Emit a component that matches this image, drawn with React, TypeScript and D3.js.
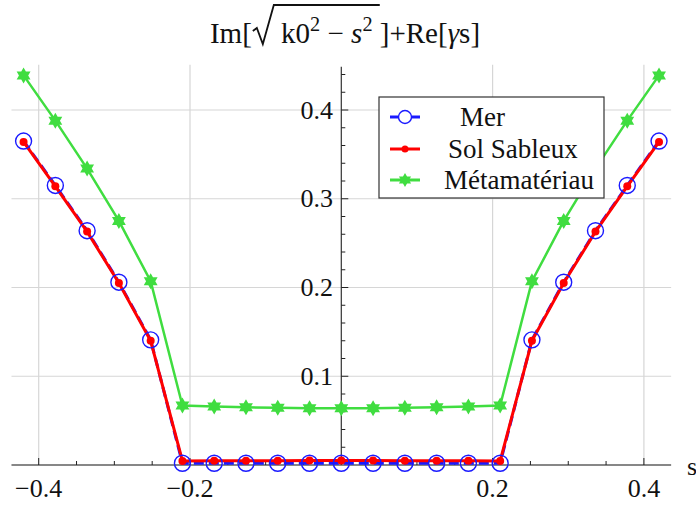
import React, { useEffect, useRef } from "react";
import * as d3 from "d3";

const sValues = [-0.42, -0.378, -0.336, -0.294, -0.252, -0.21, -0.168, -0.126, -0.084, -0.042, 0, 0.042, 0.084, 0.126, 0.168, 0.21, 0.252, 0.294, 0.336, 0.378, 0.42];
const merValues = [0.365, 0.315, 0.264, 0.206, 0.141, 0.002, 0.002, 0.002, 0.002, 0.002, 0.002, 0.002, 0.002, 0.002, 0.002, 0.002, 0.141, 0.206, 0.264, 0.315, 0.365];
const solValues = [0.364, 0.314, 0.263, 0.205, 0.140, 0.0045, 0.0047, 0.0048, 0.0049, 0.005, 0.005, 0.005, 0.0049, 0.0048, 0.0047, 0.0045, 0.140, 0.205, 0.263, 0.314, 0.364];
const metaValues = [0.439, 0.388, 0.334, 0.275, 0.207, 0.067, 0.066, 0.065, 0.0645, 0.064, 0.064, 0.064, 0.0645, 0.065, 0.066, 0.067, 0.207, 0.275, 0.334, 0.388, 0.439];
const seriesNames = ["Mer", "Sol Sableux", "Métamatériau"];
const xTicks = [-0.4, -0.2, 0.2, 0.4];
const yTicks = [0.1, 0.2, 0.3, 0.4];

const W = 696, H = 507;
const FONT = "'Liberation Serif', 'Times New Roman', serif";
const BLUE = "#1a1aff";
const RED = "#ff0000";
const GREEN = "#40dd40";

function starPath(r: number) {
  const pts: [number, number][] = [];
  for (let i = 0; i < 12; i++) {
    const a = (Math.PI / 6) * i - Math.PI / 2;
    const rr = i % 2 === 0 ? r : r / Math.sqrt(3);
    pts.push([rr * Math.cos(a), rr * Math.sin(a)]);
  }
  return "M" + pts.map((p) => p.join(",")).join("L") + "Z";
}

export default function App() {
  const ref = useRef<SVGSVGElement | null>(null);
  useEffect(() => {
    const svg = d3.select(ref.current);
    svg.selectAll("*").remove();
    const x = d3.scaleLinear().domain([-0.4, 0.4]).range([38.7, 643.9]);
    const y = d3.scaleLinear().domain([0, 0.4]).range([465, 110]);
    const xMin = -0.436, xMax = 0.436, yMax = 0.451;

    // grid
    const g = svg.append("g");
    xTicks.forEach((t) => {
      g.append("line").attr("x1", x(t)).attr("x2", x(t)).attr("y1", y(yMax)).attr("y2", y(0))
        .attr("stroke", "#d6d6d6").attr("stroke-width", 1.2);
    });
    yTicks.forEach((t) => {
      g.append("line").attr("x1", x(xMin)).attr("x2", x(xMax)).attr("y1", y(t)).attr("y2", y(t))
        .attr("stroke", "#d6d6d6").attr("stroke-width", 1.2);
    });

    // axes
    svg.append("line").attr("x1", x(xMin)).attr("x2", x(xMax)).attr("y1", y(0)).attr("y2", y(0))
      .attr("stroke", "#111").attr("stroke-width", 1.2);
    svg.append("line").attr("x1", x(0)).attr("x2", x(0)).attr("y1", y(yMax) + 2).attr("y2", y(0))
      .attr("stroke", "#333").attr("stroke-width", 1.2);

    // x ticks
    const xMinor = d3.range(-8, 9).map((i) => i * 0.05);
    xMinor.forEach((t) => {
      const major = Math.abs(Math.round(t * 100) % 20) === 0;
      if (Math.abs(t) < 1e-9) return;
      svg.append("line").attr("x1", x(t)).attr("x2", x(t)).attr("y1", y(0)).attr("y2", y(0) - (major ? 7 : 4))
        .attr("stroke", "#222").attr("stroke-width", 1);
    });
    xTicks.forEach((t) => {
      svg.append("text").attr("x", x(t)).attr("y", 497).attr("text-anchor", "middle")
        .attr("font-family", FONT).attr("font-size", 26).attr("fill", "#111")
        .text(t < 0 ? "\u2212" + d3.format(".1f")(-t) : d3.format(".1f")(t));
    });
    // y ticks
    d3.range(1, 23).map((i) => i * 0.02).forEach((t) => {
      const major = Math.round(t * 100) % 10 === 0;
      svg.append("line").attr("x1", x(0)).attr("x2", x(0) + (major ? 7 : 4)).attr("y1", y(t)).attr("y2", y(t))
        .attr("stroke", "#222").attr("stroke-width", 1);
    });
    yTicks.forEach((t) => {
      svg.append("text").attr("x", 333).attr("y", y(t) + 8.5).attr("text-anchor", "end")
        .attr("font-family", FONT).attr("font-size", 26).attr("fill", "#111")
        .text(d3.format(".1f")(t));
    });
    svg.append("text").attr("x", 687).attr("y", 475).attr("font-family", FONT).attr("font-size", 26)
      .attr("fill", "#111").text("s");

    // lines
    const line = d3.line<number>().x((_, i) => x(sValues[i])).y((v) => y(v));
    svg.append("path").attr("d", line(merValues)).attr("fill", "none").attr("stroke", BLUE)
      .attr("stroke-width", 3).attr("stroke-dasharray", "10,5");
    svg.append("path").attr("d", line(solValues)).attr("fill", "none").attr("stroke", RED)
      .attr("stroke-width", 3);
    svg.append("path").attr("d", line(metaValues)).attr("fill", "none").attr("stroke", GREEN)
      .attr("stroke-width", 2.5);

    // markers
    merValues.forEach((v, i) => {
      svg.append("circle").attr("cx", x(sValues[i])).attr("cy", y(v)).attr("r", 8)
        .attr("fill", "none").attr("stroke", BLUE).attr("stroke-width", 1.4);
    });
    solValues.forEach((v, i) => {
      svg.append("circle").attr("cx", x(sValues[i])).attr("cy", y(v)).attr("r", 4).attr("fill", RED);
    });
    metaValues.forEach((v, i) => {
      svg.append("path").attr("d", starPath(8)).attr("transform", `translate(${x(sValues[i])},${y(v)})`)
        .attr("fill", GREEN);
    });

    // legend
    const lg = svg.append("g");
    lg.append("rect").attr("x", 379).attr("y", 97).attr("width", 225).attr("height", 101)
      .attr("fill", "white").attr("stroke", "#333").attr("stroke-width", 1.2);
    const rowsY = [117, 149, 180];
    const textX = [460, 448, 444];
    const cols = [BLUE, RED, GREEN];
    rowsY.forEach((ry, i) => {
      lg.append("line").attr("x1", 390).attr("x2", 420).attr("y1", ry).attr("y2", ry)
        .attr("stroke", cols[i]).attr("stroke-width", 3);
      if (i === 0) lg.append("circle").attr("cx", 405).attr("cy", ry).attr("r", 6.5).attr("fill", "white")
        .attr("stroke", BLUE).attr("stroke-width", 1.4);
      if (i === 1) lg.append("circle").attr("cx", 405).attr("cy", ry).attr("r", 3.5).attr("fill", RED);
      if (i === 2) lg.append("path").attr("d", starPath(7)).attr("transform", `translate(405,${ry})`).attr("fill", GREEN);
      lg.append("text").attr("x", textX[i]).attr("y", ry + 8.5).attr("font-family", FONT).attr("font-size", 27)
        .attr("fill", "#111").text(seriesNames[i]);
    });

    // title
    const tg = svg.append("g");
    const fs = 29;
    const base = 43;
    const t1 = tg.append("text").attr("y", base).attr("font-family", FONT).attr("font-size", fs).attr("fill", "#111").text("Im[");
    const w1 = (t1.node() as SVGTextElement).getComputedTextLength();
    const radW = 22;
    const t2 = tg.append("text").attr("y", base).attr("font-family", FONT).attr("font-size", fs).attr("fill", "#111");
    t2.append("tspan").text("\u00a0k0");
    t2.append("tspan").attr("font-size", fs * 0.7).attr("dy", -12).text("2");
    t2.append("tspan").attr("dy", 12).text("\u00a0\u2212\u00a0");
    t2.append("tspan").attr("font-style", "italic").text("s");
    t2.append("tspan").attr("font-size", fs * 0.7).attr("dy", -12).text("2");
    t2.append("tspan").attr("dy", 12).text("\u00a0");
    const w2 = (t2.node() as SVGTextElement).getComputedTextLength();
    const t3 = tg.append("text").attr("y", base).attr("font-family", FONT).attr("font-size", fs).attr("fill", "#111");
    t3.append("tspan").text("]+Re[");
    t3.append("tspan").attr("font-style", "italic").text("\u03b3");
    t3.append("tspan").text("s]");
    const w3 = (t3.node() as SVGTextElement).getComputedTextLength();
    const total = w1 + radW + w2 + w3;
    const x0 = 345 - total / 2;
    t1.attr("x", x0);
    const rx = x0 + w1;
    tg.append("path")
      .attr("d", `M${rx + 1},${base - 12} L${rx + 5},${base - 15} L${rx + 11},${base + 1} L${rx + radW},${5} L${rx + radW + w2},${5}`)
      .attr("fill", "none").attr("stroke", "#111").attr("stroke-width", 1.8).attr("stroke-linejoin", "miter");
    t2.attr("x", rx + radW);
    t3.attr("x", rx + radW + w2);
  }, []);
  return (
    <svg ref={ref} width={W} height={H} style={{ position: "absolute", left: 0, top: 0, background: "white" }} />
  );
}
